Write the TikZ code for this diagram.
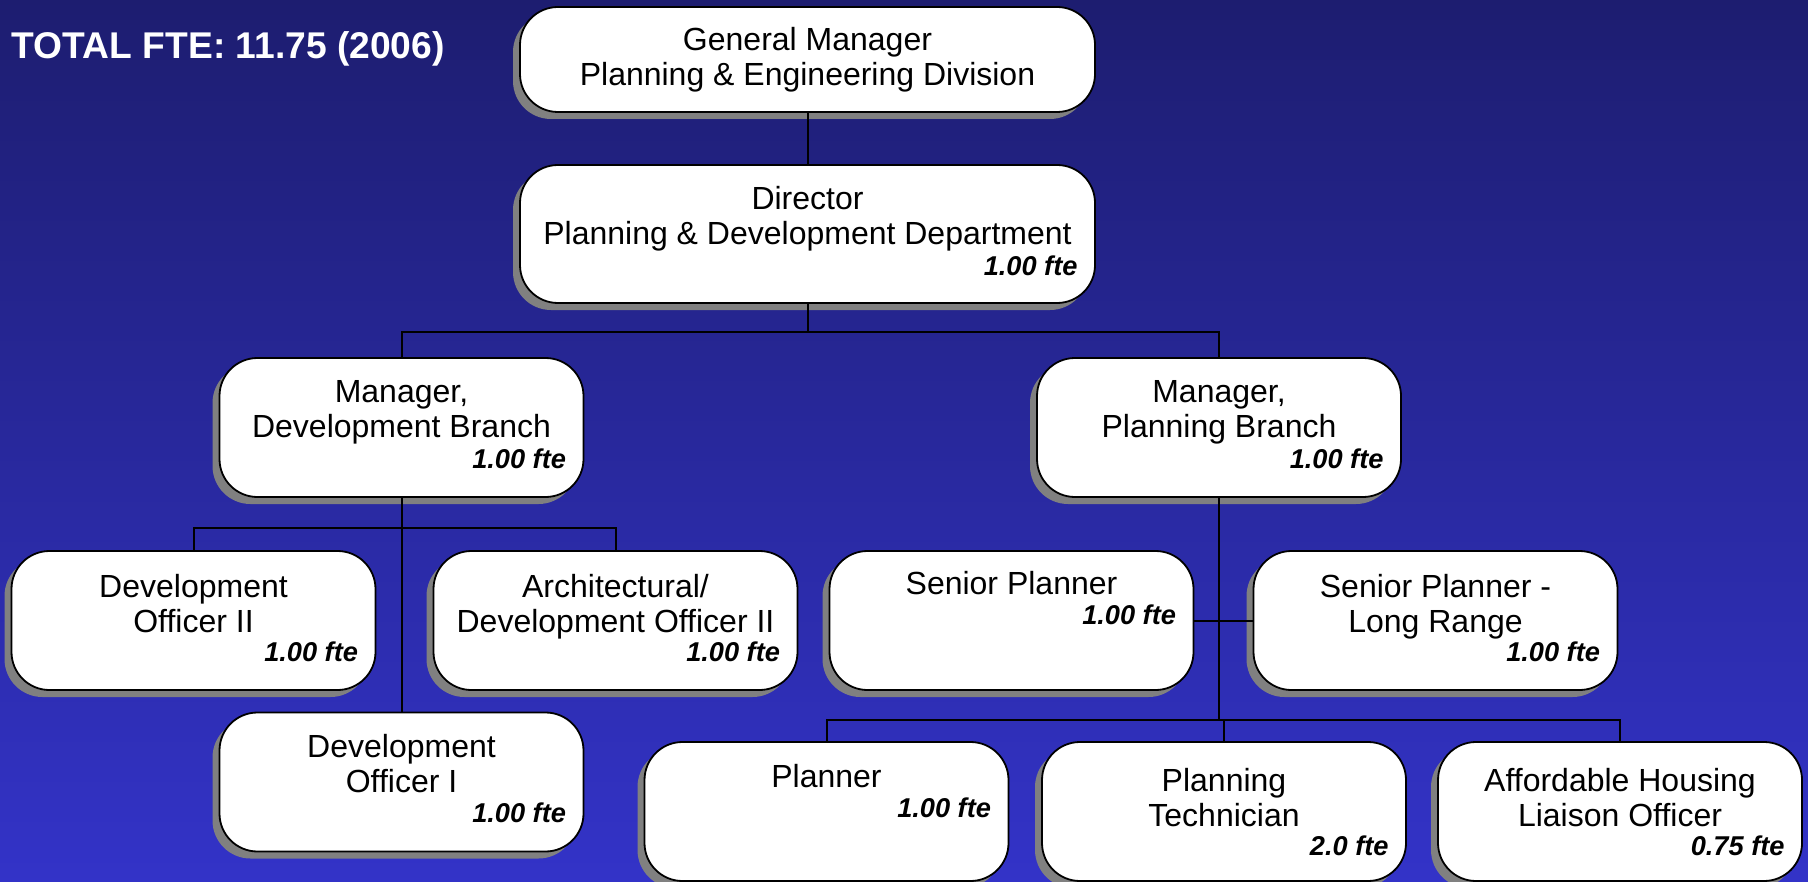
\documentclass[tikz,border=0pt]{standalone}
\usepackage{fontspec}
\setmainfont{Liberation Sans}
\usetikzlibrary{shadows,calc}
\definecolor{bgtop}{RGB}{29,29,112}
\definecolor{bgbot}{RGB}{51,51,200}
\definecolor{shadowgray}{RGB}{128,128,128}
\begin{document}
\begin{tikzpicture}[x=0.5pt,y=-0.5pt,
  orgbox/.style={draw=black, line width=0.9pt, fill=white, rounded corners=19pt,
    drop shadow={shadow xshift=-3.5pt,shadow yshift=-3.5pt,opacity=1,fill=shadowgray},
    inner sep=0pt},
  widebox/.style={minimum width=287.5pt},
  stdbox/.style={minimum width=182pt, minimum height=69.5pt},
  boxtext/.style={anchor=north, inner sep=0pt, align=center, font=\fontsize{16}{17.3}\selectfont},
  ftetext/.style={anchor=base east, inner sep=0pt, font=\fontsize{13.6}{15}\selectfont\bfseries\itshape},
  link/.style={draw=black, line width=1pt}]
\shade[top color=bgtop,bottom color=bgbot] (0,0) rectangle (1808,882);
\useasboundingbox (0,0) rectangle (1808,882);

% junctions
\coordinate (j1) at (807.5,331.5);
\coordinate (j2) at (401.5,528);
\coordinate (j3) at (1219,720);

% boxes
\node[orgbox, widebox, minimum height=52.5pt] (gm) at (807.5,59.5) {};
\node[orgbox, widebox, minimum height=69pt] (dir) at (807.5,234) {};
\node[orgbox, stdbox] (mdev) at (401.5,427.5) {};
\node[orgbox, stdbox] (mplan) at (1219,427.5) {};
\node[orgbox, stdbox] (do2) at (193.5,620.5) {};
\node[orgbox, stdbox] (arch) at (615.5,620.5) {};
\node[orgbox, stdbox] (sp) at (1011.5,620.5) {};
\node[orgbox, stdbox] (splr) at (1435.5,620.5) {};
\node[orgbox, stdbox] (do1) at (401.5,782) {};
\node[orgbox, stdbox] (plnr) at (826.5,811.5) {};
\node[orgbox, stdbox] (tech) at (1224,811.5) {};
\node[orgbox, stdbox] (ahlo) at (1620,811.5) {};

\draw[link] (gm.south) -- (dir.north);
\draw[link] (dir.south) -- (j1);
\draw[link] (mdev.north) |- (j1) -| (mplan.north);
\draw[link] (mdev.south) -- (do1.north);
\draw[link] (do2.north) |- (j2) -| (arch.north);
\draw[link] (mplan.south) -- (j3);
\draw[link] (sp.east) -- (splr.west);
\draw[link] (plnr.north) |- (j3) -| (ahlo.north);
\draw[link] (tech.north) -- (tech.north |- j3);

% title
\node[anchor=base west, inner sep=0pt, text=white, font=\fontsize{18.6}{20}\selectfont\bfseries] (title) at (11.5,59) {TOTAL FTE: 11.75 (2006)};

% texts
\node[boxtext] (gmT) at ($(gm.north)+(0,21)$) {General Manager\\Planning \& Engineering Division};

\node[boxtext] (dirT) at ($(dir.north)+(0,22)$) {Director\\Planning \& Development Department};
\node[ftetext] (dirF) at ($(dir.north east)+(-18,111.5)$) {1.00 fte};

\node[boxtext] (mdevT) at ($(mdev.north)+(0,23)$) {Manager,\\Development Branch};
\node[ftetext] (mdevF) at ($(mdev.north east)+(-18,111.5)$) {1.00 fte};

\node[boxtext] (mplanT) at ($(mplan.north)+(0,23)$) {Manager,\\Planning Branch};
\node[ftetext] (mplanF) at ($(mplan.north east)+(-18,111.5)$) {1.00 fte};

\node[boxtext] (do2T) at ($(do2.north)+(0,24)$) {Development\\Officer II};
\node[ftetext] (do2F) at ($(do2.north east)+(-18,111)$) {1.00 fte};

\node[boxtext] (archT) at ($(arch.north)+(0,24)$) {Architectural/\\Development Officer II};
\node[ftetext] (archF) at ($(arch.north east)+(-18,111)$) {1.00 fte};

\node[boxtext] (spT) at ($(sp.north)+(0,20.5)$) {Senior Planner};
\node[ftetext] (spF) at ($(sp.north east)+(-18,74)$) {1.00 fte};

\node[boxtext] (splrT) at ($(splr.north)+(0,24)$) {Senior Planner -\\Long Range};
\node[ftetext] (splrF) at ($(splr.north east)+(-18,111)$) {1.00 fte};

\node[boxtext] (do1T) at ($(do1.north)+(0,22.5)$) {Development\\Officer I};
\node[ftetext] (do1F) at ($(do1.north east)+(-18,111)$) {1.00 fte};

\node[boxtext] (plnrT) at ($(plnr.north)+(0,22.5)$) {Planner};
\node[ftetext] (plnrF) at ($(plnr.north east)+(-18,76)$) {1.00 fte};

\node[boxtext] (techT) at ($(tech.north)+(0,27)$) {Planning\\Technician};
\node[ftetext] (techF) at ($(tech.north east)+(-18,114)$) {2.0 fte};

\node[boxtext] (ahloT) at ($(ahlo.north)+(0,27)$) {Affordable Housing\\Liaison Officer};
\node[ftetext] (ahloF) at ($(ahlo.north east)+(-18,114)$) {0.75 fte};
\end{tikzpicture}
\end{document}
